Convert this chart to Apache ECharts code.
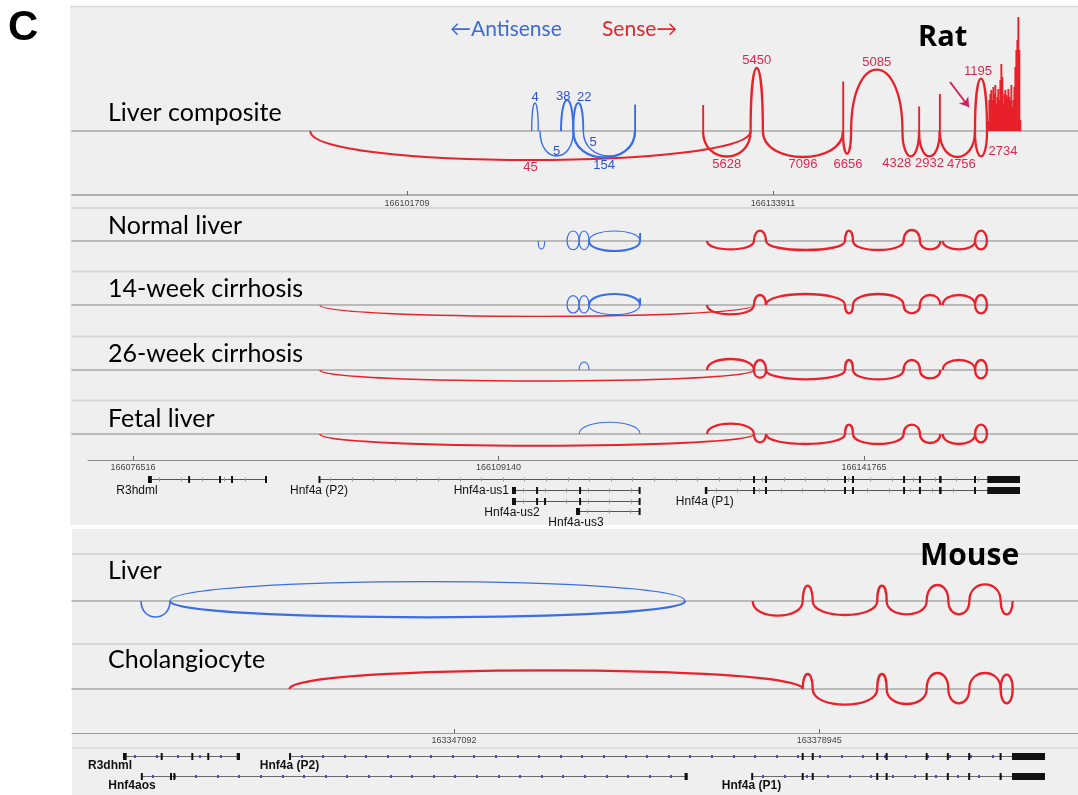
<!DOCTYPE html>
<html>
<head>
<meta charset="utf-8">
<script src="https://cdn.jsdelivr.net/npm/echarts@6/dist/echarts.min.js"></script>
<style>
  html, body { margin: 0; padding: 0; background: #fff; }
  #chart { width: 1078px; height: 795px; }
</style>
</head>
<body>
<div id="chart"></div>
<script>
// ---------------- Rat Hnf4a locus: splice sites (bp) ----------------
const RS = {
  P2: 166093200, P1: 166127750, E2: 166131940, E3: 166133020,
  E4a: 166140070, E4b: 166140780, E5: 166145300, E6: 166146760,
  E7: 166148580, E7b: 166148800, E8: 166151680, E9: 166152740,
  A1: 166112680, A2: 166113260, A3: 166113410, A4: 166115260,
  A5: 166116340, A6: 166117220, A7: 166121770
};

// junctions: [donor, acceptor, arc height (track units, + above / - below), supporting reads]
const COMPOSITE_SENSE = [
  [RS.P2, RS.E2, -29, 45],
  [RS.P1, RS.E2, -25.5, 5628],
  [RS.E2, RS.E3, 63, 5450],
  [RS.E3, RS.E4a, -26, 7096],
  [RS.E4a, RS.E4b, -22.7, 6656],
  [RS.E4b, RS.E5, 61.3, 5085],
  [RS.E5, RS.E6, -25.3, 4328],
  [RS.E6, RS.E7, -25.3, 2932],
  [RS.E7, RS.E8, -26, 4756],
  [RS.E8, RS.E9, 52.3, 1195],
  [RS.E8, RS.E9, -25.3, 2734]
];
const COMPOSITE_ANTI = [
  [RS.A1, RS.A2, 28, 4],
  [RS.A4, RS.A5, 31, 38],
  [RS.A5, RS.A6, 28, 22],
  [RS.A3, RS.A5, -25, 5],
  [RS.A6, RS.A7, -25, 5],
  [RS.A5, RS.A7, -26.5, 154]
];
// read depth over exons: [start, end, depth]
const COMPOSITE_SENSE_DEPTH = [
  [166127700, 166127810, 26], [166140020, 166140130, 49.5],
  [166146700, 166146810, 24.5], [166148520, 166148640, 37]
];
const COMPOSITE_ANTI_DEPTH = [[166121700, 166121830, 26.5]];
// 3' UTR read depth, consecutive bins
const UTR_START = 166152800;
const UTR_BIN = 88;
const UTR_DEPTH = [10, 31, 37, 41, 31, 44, 37, 46, 27, 34, 42, 31, 51, 67, 54, 27, 37,
                   41, 36, 34, 42, 34, 31, 46, 24, 31, 44, 64, 81, 91, 114, 81, 11];

const NORMAL_SENSE = [
  [RS.P1, RS.E2, -8.3, 500], [RS.E2, RS.E3, 10.3, 500], [RS.E3, RS.E4a, -9, 500],
  [RS.E4a, RS.E4b, 10.3, 500], [RS.E4b, RS.E5, -9, 500], [RS.E5, RS.E6, 11, 500],
  [RS.E6, RS.E7, -8.3, 500], [RS.E7b, RS.E8, -8.3, 500], [RS.E8, RS.E9, 10.3, 500],
  [RS.E8, RS.E9, -8.3, 500]
];
const NORMAL_ANTI = [
  [RS.A1, RS.A2, -8, 2], [RS.A4, RS.A5, 10, 3], [RS.A4, RS.A5, -8.7, 3],
  [RS.A5, RS.A6, 10, 3], [RS.A5, RS.A6, -8.7, 3], [RS.A6, RS.A7, 10, 3],
  [RS.A6, RS.A7, -10, 40]
];
const NORMAL_ANTI_DEPTH = [[166121700, 166121830, 8]];

const W14_SENSE = [
  [RS.P2, RS.E2, -11.3, 4], [RS.P1, RS.E2, -9.3, 300], [RS.E2, RS.E3, 10, 300],
  [RS.E3, RS.E4a, 11, 300], [RS.E4a, RS.E4b, -8.3, 300], [RS.E4b, RS.E5, 11, 300],
  [RS.E5, RS.E6, -8.3, 300], [RS.E6, RS.E7, 10, 300], [RS.E7b, RS.E8, 10, 300],
  [RS.E8, RS.E9, 10, 300], [RS.E8, RS.E9, -8.3, 300]
];
const W14_ANTI = [
  [RS.A4, RS.A5, 9.3, 3], [RS.A4, RS.A5, -8, 3], [RS.A5, RS.A6, 9.3, 3],
  [RS.A5, RS.A6, -8, 3], [RS.A6, RS.A7, 11, 60], [RS.A6, RS.A7, -9.7, 3]
];
const W14_ANTI_DEPTH = [[166121700, 166121830, 7]];

const W26_SENSE = [
  [RS.P2, RS.E2, -11, 12], [RS.P1, RS.E2, 11, 300], [RS.E2, RS.E3, 10, 300],
  [RS.E2, RS.E3, -7.7, 300], [RS.E3, RS.E4a, -9.3, 300], [RS.E4a, RS.E4b, 10, 300],
  [RS.E4b, RS.E5, -9.3, 300], [RS.E5, RS.E6, 10, 300], [RS.E6, RS.E7, -8.3, 300],
  [RS.E7b, RS.E8, 10, 300], [RS.E8, RS.E9, 10, 300], [RS.E8, RS.E9, -8.3, 300]
];
const W26_ANTI = [[RS.A5, RS.A6, 8, 2]];

const FETAL_SENSE = [
  [RS.P2, RS.E2, -11.7, 25], [RS.P1, RS.E2, 10.3, 300], [RS.E2, RS.E3, -8.3, 300],
  [RS.E3, RS.E4a, -10, 300], [RS.E4a, RS.E4b, 9.3, 300], [RS.E4b, RS.E5, -10, 300],
  [RS.E5, RS.E6, 9.3, 300], [RS.E6, RS.E7, -9, 300], [RS.E7b, RS.E8, -10, 300],
  [RS.E8, RS.E9, 9.3, 300], [RS.E8, RS.E9, -8.3, 300]
];
const FETAL_ANTI = [[RS.A5, RS.A7, 11.7, 2]];

// ---------------- Mouse Hnf4a locus ----------------
const MS = {
  P2: 163332750, P1: 163373140, E2: 163377500, E3: 163378370,
  E4a: 163384000, E4b: 163384820, E5: 163388310, E6: 163390200,
  E7: 163392030, E8: 163394760, E9: 163395810,
  OS1: 163319800, OS2: 163322330, OS3: 163367240
};
const MLIVER_SENSE = [
  [MS.P1, MS.E2, -14.7, 400], [MS.E2, MS.E3, 15.3, 400], [MS.E3, MS.E4a, -14, 400],
  [MS.E4a, MS.E4b, 15.3, 400], [MS.E4b, MS.E5, -13.3, 400], [MS.E5, MS.E6, 16, 400],
  [MS.E6, MS.E7, -13.3, 400], [MS.E7, MS.E8, 16.7, 400], [MS.E8, MS.E9, -13.3, 400]
];
const MLIVER_ANTI = [
  [MS.OS1, MS.OS2, -16, 10], [MS.OS2, MS.OS3, 19.3, 3], [MS.OS2, MS.OS3, -16.3, 200]
];
const CHOL_SENSE = [
  [MS.P2, MS.E2, 18.7, 150], [MS.E2, MS.E3, 15, 400], [MS.E3, MS.E4a, -15.7, 400],
  [MS.E4a, MS.E4b, 15, 400], [MS.E4b, MS.E5, -15, 400], [MS.E5, MS.E6, 16, 400],
  [MS.E6, MS.E7, -14.3, 400], [MS.E7, MS.E8, 16, 400], [MS.E8, MS.E9, 14.3, 400],
  [MS.E8, MS.E9, -14.3, 400]
];

// ---------------- Gene models ----------------
const RAT_HNF4A_EXONS = [
  [166131880, 166132020], [166132950, 166133090], [166140010, 166140130],
  [166140720, 166140850], [166145280, 166145400], [166146700, 166146820],
  [166148470, 166148690], [166151610, 166151740], [166152770, 166155690]
];
const RAT_GENES = [
  { name: 'R3hdml', row: 0, exons: [[166077855, 166078200], [166081470, 166081580], [166084230, 166084340], [166085300, 166085410], [166088330, 166088440]] },
  { name: 'Hnf4a (P2)', row: 0, exons: [[166093118, 166093200]].concat(RAT_HNF4A_EXONS) },
  { name: 'Hnf4a-us1', row: 1, exons: [[166110346, 166110700], [166112530, 166112640], [166116370, 166116480], [166121680, 166121790]] },
  { name: 'Hnf4a (P1)', row: 1, exons: [[166127560, 166127780]].concat(RAT_HNF4A_EXONS) },
  { name: 'Hnf4a-us2', row: 2, exons: [[166110346, 166110700], [166112530, 166112640], [166113240, 166113350], [166116370, 166116480], [166121680, 166121790]] },
  { name: 'Hnf4a-us3', row: 3, exons: [[166116060, 166116420], [166121680, 166121790]] }
];
const MOUSE_HNF4A_EXONS = [
  [163377440, 163377560], [163378320, 163378430], [163383950, 163384050],
  [163384770, 163384870], [163388260, 163388360], [163390100, 163390210],
  [163391960, 163392070], [163394700, 163394810], [163395750, 163398627]
];
const MOUSE_GENES = [
  { name: 'R3dhml', row: 0, exons: [[163318229, 163318551], [163321560, 163321650], [163324230, 163324320], [163325620, 163325710], [163328143, 163328431]] },
  { name: 'Hnf4a (P2)', row: 0, exons: [[163332750, 163332840]].concat(MOUSE_HNF4A_EXONS) },
  { name: 'Hnf4aos', row: 1, exons: [[163319798, 163319950], [163322370, 163322460], [163322660, 163322750], [163367200, 163367470]] },
  { name: 'Hnf4a (P1)', row: 1, exons: [[163373030, 163373160]].concat(MOUSE_HNF4A_EXONS) }
];

// ---------------- Ruler ticks and visible windows ----------------
const COMPOSITE_TICKS = [166101709, 166133911];
const RAT_TICKS = [166076516, 166109140, 166141765];
const MOUSE_TICKS = [163347092, 163378945];
const COMPOSITE_VIEW = [166072236, 166160744];
const RAT_VIEW = [166071071, 166160867];
const RAT_GENE_VIEW = [166072499, 166160867];
const MOUSE_VIEW = [163313782, 163401505];

const RAT_TRACK_NAMES = ['Liver composite', 'Normal liver', '14-week cirrhosis', '26-week cirrhosis', 'Fetal liver'];
const MOUSE_TRACK_NAMES = ['Liver', 'Cholangiocyte'];

// ---------------- styling ----------------
const SENSE = '#e8212b', ANTI = '#3a6ee6';
const SENSE_TEXT = '#e2264e', ANTI_TEXT = '#2d53d3';
const ARIAL = '"Liberation Sans", Arial, sans-serif';
const LABEL_FONT = 'Lato, "DejaVu Sans", sans-serif';

// hand-placed count labels that would otherwise collide
const COUNT_NUDGE = {
  ['S4328@' + RS.E5]: [-14, 0], ['S2734@' + RS.E8]: [22, -12], ['S4756@' + RS.E7]: [4, 0],
  ['S1195@' + RS.E8]: [-3, 0], ['S6656@' + RS.E4a]: [1, 3],
  ['A38@' + RS.A4]: [-4, 4], ['A22@' + RS.A5]: [6, 2], ['A4@' + RS.A1]: [0, 1.5],
  ['A5@' + RS.A3]: [0, -12.5], ['A5@' + RS.A6]: [-16, -21]
};
const GENE_LABEL_SHIFT = { 'R3hdml': -11, 'R3dhml': -13, 'Hnf4aos': -9 };

function arcWidth(n) {
  return Math.max(1, Math.min(2.3, 0.9 + 0.7 * Math.log10(n)));
}

function arcSeries(grid, list, color, textColor, strandKey) {
  return {
    type: 'custom', xAxisIndex: grid, yAxisIndex: grid, silent: true, z: 3,
    data: list,
    renderItem: function (params, api) {
      const s = api.value(0), e = api.value(1), h = api.value(2), n = api.value(3);
      const a = api.coord([s, 0]), b = api.coord([e, 0]);
      const c = api.coord([s, h * 4 / 3]);
      const children = [{
        type: 'bezierCurve',
        shape: { x1: a[0], y1: a[1], x2: b[0], y2: b[1], cpx1: a[0], cpy1: c[1], cpx2: b[0], cpy2: c[1] },
        style: { stroke: color, lineWidth: arcWidth(n), fill: 'none' }
      }];
      if (textColor) {
        const peak = api.coord([s, h])[1];
        const nudge = COUNT_NUDGE[strandKey + n + '@' + s] || [0, 0];
        children.push({
          type: 'text',
          x: (a[0] + b[0]) / 2 + nudge[0],
          y: peak + (h > 0 ? -7.5 : 7.5) + nudge[1],
          style: { text: String(n), fill: textColor, font: '13px ' + ARIAL, align: 'center', verticalAlign: 'middle' }
        });
      }
      return { type: 'group', children: children };
    }
  };
}

function depthSeries(grid, bins, color) {
  return {
    type: 'custom', xAxisIndex: grid, yAxisIndex: grid, silent: true, z: 2,
    data: bins,
    renderItem: function (params, api) {
      const a = api.coord([api.value(0), api.value(2)]);
      const b = api.coord([api.value(1), 0]);
      let w = b[0] - a[0];
      let x = a[0];
      if (w < 1.6) { x = (a[0] + b[0]) / 2 - 0.8; w = 1.6; }
      return { type: 'rect', shape: { x: x, y: a[1], width: w + 0.3, height: b[1] - a[1] }, style: { fill: color } };
    }
  };
}

function geneSeries(grid, genes, opts) {
  return {
    type: 'custom', xAxisIndex: grid, yAxisIndex: grid, silent: true, z: 3,
    data: genes.map(g => [g.exons[0][0], g.row]),
    renderItem: function (params, api) {
      const g = genes[params.dataIndex];
      const first = api.coord([g.exons[0][0], g.row]);
      const last = api.coord([g.exons[g.exons.length - 1][1], g.row]);
      const y = Math.round(first[1]) + 0.5;
      const children = [{
        type: 'line', shape: { x1: first[0], y1: y, x2: last[0], y2: y },
        style: { stroke: opts.lineColor, lineWidth: opts.lineWidth }
      }];
      for (let x = first[0] + 11; x < last[0] - 4; x += 21.6) {
        children.push({ type: 'rect', shape: { x: Math.round(x), y: y - opts.markH / 2, width: opts.markW, height: opts.markH }, style: { fill: opts.markColor } });
      }
      g.exons.forEach(function (ex) {
        const p = api.coord([ex[0], g.row])[0], q = api.coord([ex[1], g.row])[0];
        let w = q - p, x = p;
        if (w < 2) { x = (p + q) / 2 - 1; w = 2; }
        children.push({ type: 'rect', shape: { x: x, y: y - 3.5, width: w, height: 7 }, style: { fill: '#111' } });
      });
      const left = opts.leftLabels.indexOf(g.name) >= 0;
      children.push({
        type: 'text',
        x: left ? first[0] - 3 : first[0] + (GENE_LABEL_SHIFT[g.name] || 0),
        y: left ? y : y + opts.labelGap,
        style: { text: g.name, fill: '#111', font: opts.font, align: left ? 'right' : 'center', verticalAlign: 'middle' }
      });
      return { type: 'group', children: children };
    }
  };
}

// ---------------- layout ----------------
const GRIDS = [
  { left: 72, right: 0, top: 8, height: 187 },   // 0 liver composite
  { left: 72, right: 0, top: 194, height: 1 },   // 1 composite ruler
  { left: 72, right: 0, top: 208, height: 63 },  // 2 normal liver
  { left: 72, right: 0, top: 272, height: 64 },  // 3 14-week
  { left: 72, right: 0, top: 337, height: 63 },  // 4 26-week
  { left: 72, right: 0, top: 401, height: 58 },  // 5 fetal
  { left: 88, right: 0, top: 460, height: 64 },  // 6 rat genes
  { left: 72, right: 0, top: 555, height: 89 },  // 7 mouse liver
  { left: 72, right: 0, top: 645, height: 88 },  // 8 cholangiocyte
  { left: 72, right: 0, top: 733, height: 62 }   // 9 mouse genes
].map(g => Object.assign({ containLabel: false, outerBoundsMode: 'none', show: false }, g));

const Y_RANGES = [[-64, 123], [0, 1], [-30, 33], [-31, 33], [-30, 33], [-25, 33], [-1.8, 4.2], [-43, 46], [-44, 44], [-1.15, 1.95]];
const X_VIEWS = [COMPOSITE_VIEW, COMPOSITE_VIEW, RAT_VIEW, RAT_VIEW, RAT_VIEW, RAT_VIEW, RAT_GENE_VIEW, MOUSE_VIEW, MOUSE_VIEW, MOUSE_VIEW];

function baselineAxis(i) {
  return {
    type: 'value', gridIndex: i, min: X_VIEWS[i][0], max: X_VIEWS[i][1],
    axisLine: { show: true, onZero: true, lineStyle: { color: '#a9a9a9', width: 1.5 } },
    axisTick: { show: false }, axisLabel: { show: false }, splitLine: { show: false }
  };
}
function rulerAxis(i, ticks, position, color) {
  return {
    type: 'value', gridIndex: i, min: X_VIEWS[i][0], max: X_VIEWS[i][1], position: position,
    axisLine: { show: true, onZero: false, lineStyle: { color: color, width: position === 'bottom' ? 1.5 : 1 } },
    axisTick: { show: true, inside: position === 'bottom', length: 4, customValues: ticks, lineStyle: { color: '#666', width: 1 } },
    axisLabel: {
      show: true, inside: position === 'top', margin: position === 'top' ? 3.5 : 4, customValues: ticks,
      formatter: v => String(v), fontSize: 9, color: '#444', fontFamily: '"Liberation Sans", Arial, sans-serif'
    },
    splitLine: { show: false }
  };
}

const xAxes = [
  baselineAxis(0), rulerAxis(1, COMPOSITE_TICKS, 'bottom', '#9a9a9a'),
  baselineAxis(2), baselineAxis(3), baselineAxis(4), baselineAxis(5),
  rulerAxis(6, RAT_TICKS, 'top', '#8a8a8a'),
  baselineAxis(7), baselineAxis(8),
  rulerAxis(9, MOUSE_TICKS, 'top', '#9a9a9a')
];
const yAxes = Y_RANGES.map((r, i) => ({
  type: 'value', gridIndex: i, min: r[0], max: r[1], show: false,
  inverse: i === 6 || i === 9, splitLine: { show: false }
}));

const series = [
  depthSeries(0, COMPOSITE_SENSE_DEPTH, SENSE),
  depthSeries(0, COMPOSITE_ANTI_DEPTH, ANTI),
  depthSeries(0, UTR_DEPTH.map((d, i) => [UTR_START + i * UTR_BIN, UTR_START + (i + 1) * UTR_BIN, d]), SENSE),
  arcSeries(0, COMPOSITE_SENSE, SENSE, SENSE_TEXT, 'S'),
  arcSeries(0, COMPOSITE_ANTI, ANTI, ANTI_TEXT, 'A'),
  {
    type: 'lines', coordinateSystem: 'cartesian2d', xAxisIndex: 0, yAxisIndex: 0, silent: true, z: 4,
    data: [{ coords: [[166149482, 49], [166151153, 24]] }],
    symbol: ['none', 'arrow'], symbolSize: 9,
    lineStyle: { color: '#d1245c', width: 2, opacity: 1 }
  },
  arcSeries(2, NORMAL_SENSE, SENSE), arcSeries(2, NORMAL_ANTI, ANTI), depthSeries(2, NORMAL_ANTI_DEPTH, ANTI),
  arcSeries(3, W14_SENSE, SENSE), arcSeries(3, W14_ANTI, ANTI), depthSeries(3, W14_ANTI_DEPTH, ANTI),
  arcSeries(4, W26_SENSE, SENSE), arcSeries(4, W26_ANTI, ANTI),
  arcSeries(5, FETAL_SENSE, SENSE), arcSeries(5, FETAL_ANTI, ANTI),
  geneSeries(6, RAT_GENES, {
    lineColor: '#555', lineWidth: 1, markColor: '#9a9a9a', markW: 1, markH: 4,
    font: '12px ' + ARIAL, labelGap: 11.5, leftLabels: ['Hnf4a-us1']
  }),
  arcSeries(7, MLIVER_SENSE, SENSE), arcSeries(7, MLIVER_ANTI, ANTI),
  arcSeries(8, CHOL_SENSE, SENSE),
  geneSeries(9, MOUSE_GENES, {
    lineColor: '#6a6a6a', lineWidth: 1.2, markColor: '#4646e0', markW: 2, markH: 3,
    font: 'bold 12px ' + ARIAL, labelGap: 9.5, leftLabels: []
  })
];

// panel backgrounds, separators and captions
function hline(y, color, w, x0) {
  return { type: 'line', z: -5, shape: { x1: x0 || 72, y1: y, x2: 1078, y2: y }, style: { stroke: color, lineWidth: w } };
}
function caption(text, x, y, font, color) {
  return { type: 'text', z: 10, x: x, y: y, style: { text: text, font: font, fill: color || '#000', align: 'left', verticalAlign: 'middle' } };
}
const RAT_LABEL_Y = [113, 226, 289, 353.5, 418.5];
const MOUSE_LABEL_Y = [571, 660];

const graphic = [
  { type: 'rect', z: -10, shape: { x: 70, y: 6, width: 1008, height: 519 }, style: { fill: '#efefef' } },
  { type: 'rect', z: -10, shape: { x: 72, y: 529, width: 1006, height: 266 }, style: { fill: '#efefef' } },
  hline(6.5, '#d9d9d9', 1.5, 70),
  hline(208, '#d8d8d8', 2), hline(271.5, '#d8d8d8', 2), hline(336.5, '#d8d8d8', 2), hline(400.5, '#d8d8d8', 2),
  hline(554, '#d8d8d8', 2), hline(644, '#d8d8d8', 2), hline(748, '#dcdcdc', 1.5),
  caption('C', 8, 28, 'bold 42px ' + ARIAL),
  caption('Rat', 918, 38, 'bold 29px "Open Sans", sans-serif'),
  caption('Mouse', 920, 556, 'bold 30px "Open Sans", sans-serif'),
  caption('\u2190Antisense', 450, 29, '21px ' + LABEL_FONT, '#3b6bd6'),
  caption('Sense\u2192', 602, 29, '21px ' + LABEL_FONT, '#e3262c')
]
  .concat(RAT_TRACK_NAMES.map((t, i) => caption(t, 108, RAT_LABEL_Y[i], '25px ' + LABEL_FONT)))
  .concat(MOUSE_TRACK_NAMES.map((t, i) => caption(t, 108, MOUSE_LABEL_Y[i], '25px ' + LABEL_FONT)));

const chart = echarts.init(document.getElementById('chart'), null, { renderer: 'canvas' });
chart.setOption({
  backgroundColor: '#ffffff',
  animation: false,
  grid: GRIDS,
  xAxis: xAxes,
  yAxis: yAxes,
  series: series,
  graphic: graphic
});
</script>
</body>
</html>
